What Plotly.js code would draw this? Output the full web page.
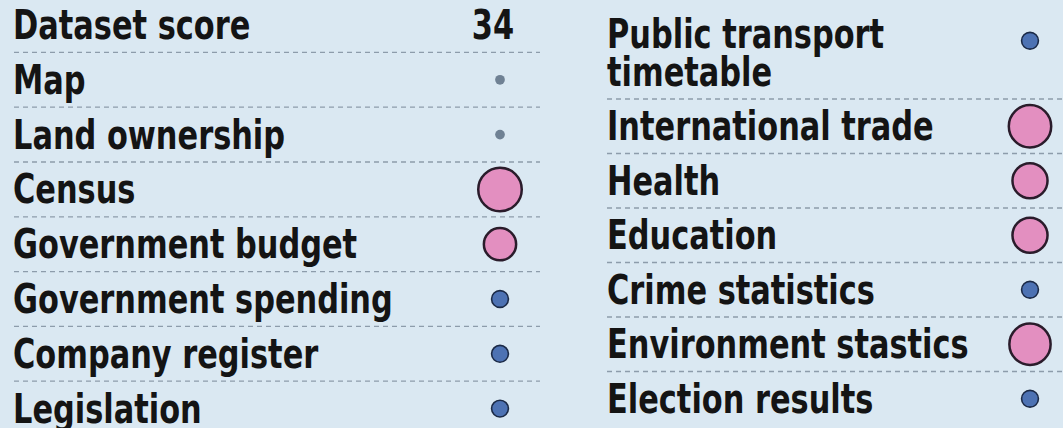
<!DOCTYPE html>
<html>
<head>
<meta charset="utf-8">
<script src="https://cdn.plot.ly/plotly-3.0.1.min.js"></script>
<style>
html,body{margin:0;padding:0;background:#dae8f2;}
#chart{width:1063px;height:428px;}
</style>
</head>
<body>
<div id="chart"></div>
<script>
// ---- data ----
const headerLabel = 'Dataset score';
const totalScore = 34;
const leftDatasets = ['Map', 'Land ownership', 'Census', 'Government budget',
  'Government spending', 'Company register', 'Legislation'];
const leftScores = [5, 5, 100, 55, 15, 15, 15];
const rightDatasets = ['Public transport<br>timetable', 'International trade', 'Health',
  'Education', 'Crime statistics', 'Environment stastics', 'Election results'];
const rightScores = [15, 95, 65, 65, 15, 90, 15];

// ---- layout constants ----
const W = 1063, H = 428;
const FONT = {family: '"DejaVu Sans Condensed", "DejaVu Sans", sans-serif', size: 40, color: '#141414', weight: 700};
const X_SQUEEZE = 0.845;
const rowH = 54.8;
const leftTextX = 12, leftDotX = 500, leftLine = [14, 540], leftHeaderY = 25;
const rightTextX = 606, rightDotX = 1030, rightLine = [607, W];
const rightFirstSep = 99, rightRowH = 54.5, lineGap = 38;

const annotations = [];
const shapes = [];
function addText(txt, x, y, anchor) {
  annotations.push({text: txt, x: x, y: y, xref: 'x', yref: 'y', xanchor: anchor || 'left',
    yanchor: 'middle', showarrow: false, font: FONT, borderpad: 0});
}
function addSep(y, seg) {
  shapes.push({type: 'line', xref: 'x', yref: 'y', x0: seg[0], x1: seg[1], y0: y, y1: y,
    layer: 'below', line: {color: '#8d9cab', width: 1.3, dash: '5px,4px'}});
}

const dotX = [], dotY = [], dotS = [];

// left column
addText(headerLabel, leftTextX, leftHeaderY);
addText(String(totalScore), 515, leftHeaderY, 'right');
addSep(leftHeaderY + rowH / 2, leftLine);
leftDatasets.forEach((name, i) => {
  const cy = leftHeaderY + rowH * (i + 1);
  addText(name, leftTextX, cy);
  if (i < leftDatasets.length - 1) addSep(cy + rowH / 2, leftLine);
  dotX.push(leftDotX); dotY.push(cy); dotS.push(leftScores[i]);
});

// right column
let sepAbove = null;
rightDatasets.forEach((name, j) => {
  const lines = name.split('<br>');
  let cy;
  if (j === 0) {
    const first = rightFirstSep - rightRowH / 2 - (lines.length - 1) * lineGap;
    lines.forEach((ln, k) => addText(ln, rightTextX, first + k * lineGap));
    cy = first + (lines.length > 1 ? 7 : 0);
    sepAbove = rightFirstSep;
    addSep(sepAbove, rightLine);
  } else {
    cy = sepAbove + rightRowH / 2;
    addText(name, rightTextX, cy);
    sepAbove += rightRowH;
    if (j < rightDatasets.length - 1) addSep(sepAbove, rightLine);
  }
  dotX.push(rightDotX); dotY.push(cy); dotS.push(rightScores[j]);
});

const maxScore = Math.max(...dotS);
const maxDiam = 43.5;
const fill = dotS.map(s => s >= 50 ? '#e38fc0' : (s >= 10 ? '#4d72b3' : '#6f8194'));
const edge = dotS.map(s => s >= 50 ? '#2a1c2b' : (s >= 10 ? '#1b2a47' : '#6f8194'));
const edgeW = dotS.map(s => s >= 50 ? 2.5 : (s >= 10 ? 1.6 : 0));

const trace = {
  type: 'scatter', mode: 'markers', x: dotX, y: dotY, hoverinfo: 'skip',
  marker: {size: dotS, sizemode: 'area', sizeref: 2 * maxScore / (maxDiam * maxDiam),
    color: fill, line: {color: edge, width: edgeW}, opacity: 1}
};

const layout = {
  width: W, height: H, margin: {l: 0, r: 0, t: 0, b: 0},
  paper_bgcolor: '#dae8f2', plot_bgcolor: '#dae8f2', showlegend: false,
  xaxis: {range: [0, W], visible: false, fixedrange: true},
  yaxis: {range: [H, 0], visible: false, fixedrange: true},
  annotations: annotations, shapes: shapes
};

Plotly.newPlot('chart', [trace], layout, {displayModeBar: false, staticPlot: true}).then(gd => {
  // condense the bold type horizontally, anchored on each label's own side
  const texts = gd.querySelectorAll('.annotation-text');
  texts.forEach((t, i) => {
    const a = annotations[i];
    t.style.transformBox = 'fill-box';
    t.style.transformOrigin = (a && a.xanchor === 'right') ? '100% 50%' : '0% 50%';
    t.style.transform = 'scaleX(' + X_SQUEEZE + ')';
  });
});
</script>
</body>
</html>
